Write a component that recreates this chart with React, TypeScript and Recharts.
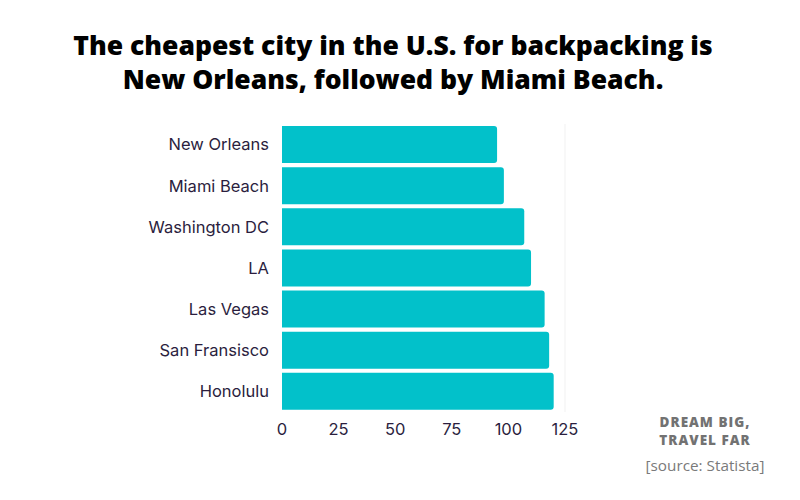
import { Bar, BarChart, ReferenceLine, XAxis, YAxis } from "recharts";

const cities = [
  "New Orleans",
  "Miami Beach",
  "Washington DC",
  "LA",
  "Las Vegas",
  "San Fransisco",
  "Honolulu",
];
const costs = [95, 98, 107, 110, 116, 118, 120];
const xTicks = [0, 25, 50, 75, 100, 125];

const data = cities.map((city, i) => ({ city, cost: costs[i] }));

const labelColor = "#2b1e3e";
const barColor = "#02c1ca";

export default function App() {
  return (
    <div
      style={{
        position: "absolute",
        left: 0,
        top: 0,
        width: 800,
        height: 500,
        background: "#ffffff",
        fontFamily: "'Open Sans', sans-serif",
      }}
    >
      <div
        style={{
          position: "absolute",
          left: 0,
          top: 28,
          width: 786,
          textAlign: "center",
          fontSize: 26.5,
          fontWeight: 800,
          lineHeight: "34px",
          color: "#000000",
        }}
      >
        The cheapest city in the U.S. for backpacking is
        <br />
        New Orleans, followed by Miami Beach.
      </div>

      <BarChart
        width={800}
        height={500}
        data={data}
        layout="vertical"
        barCategoryGap={2}
        margin={{ top: 124, right: 235, bottom: 0, left: 0 }}
        style={{ position: "absolute", left: 0, top: 0 }}
      >
        <XAxis
          type="number"
          domain={[0, 125]}
          ticks={xTicks}
          axisLine={false}
          tickLine={false}
          tickMargin={5}
          height={88}
          tick={{ fill: labelColor, fontSize: 16.5, fontFamily: "Inter" }}
        />
        <YAxis
          type="category"
          dataKey="city"
          width={282}
          axisLine={false}
          tickLine={false}
          tickMargin={7}
          tick={{ fill: labelColor, fontSize: 16.5, fontFamily: "Inter" }}
        />
        <ReferenceLine x={125} stroke="#f1f1f1" />
        <Bar
          dataKey="cost"
          fill={barColor}
          radius={[0, 3, 3, 0]}
          isAnimationActive={false}
        />
      </BarChart>

      <div
        style={{
          position: "absolute",
          left: 620,
          top: 413,
          width: 170,
          textAlign: "center",
          fontSize: 13.5,
          fontWeight: 800,
          letterSpacing: 1,
          lineHeight: "18px",
          color: "#727272",
        }}
      >
        DREAM BIG,
        <br />
        TRAVEL FAR
      </div>
      <div
        style={{
          position: "absolute",
          left: 620,
          top: 455,
          width: 170,
          textAlign: "center",
          fontSize: 15.3,
          color: "#7a7a7a",
        }}
      >
        [source: Statista]
      </div>
    </div>
  );
}
